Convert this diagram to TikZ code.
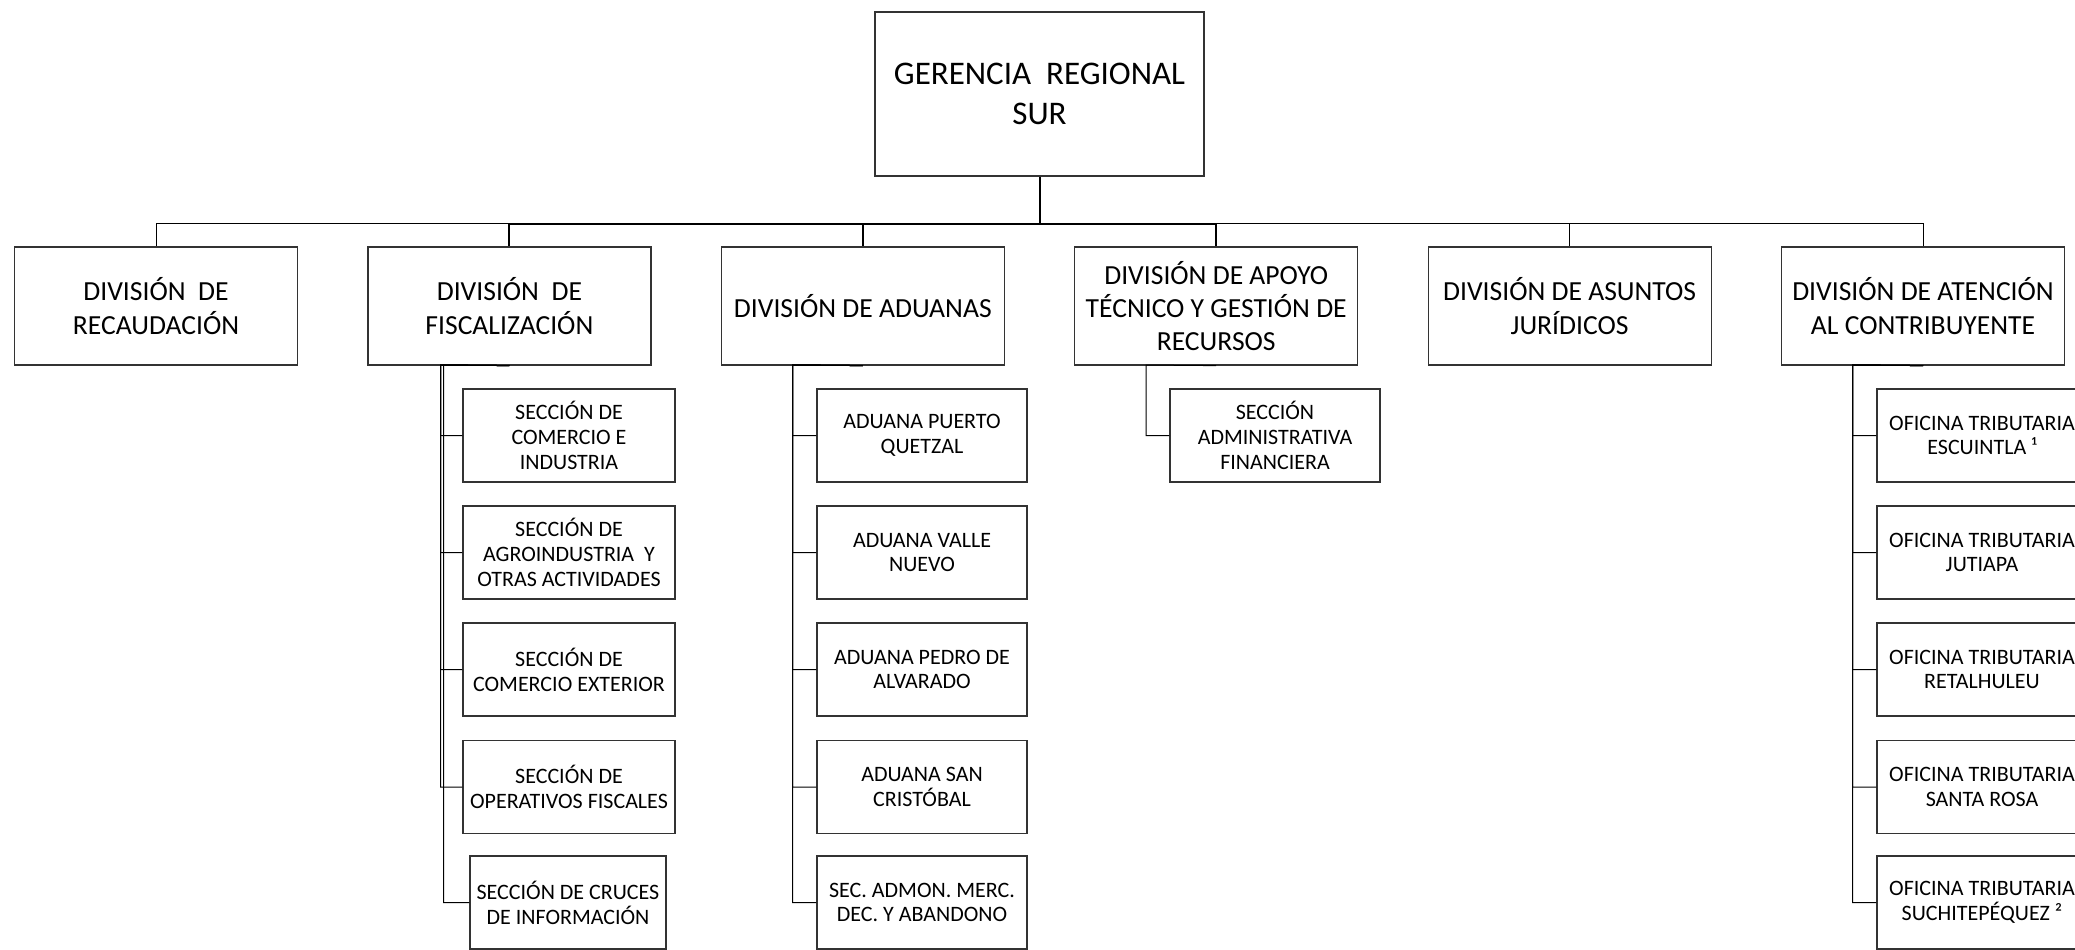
\documentclass[tikz,border=0pt]{standalone}
\usepackage{fontspec}
\setmainfont{Carlito}
\begin{document}
\begin{tikzpicture}[x=0.5pt,y=-0.5pt,
	topbox/.style={draw=black!80,line width=0.6pt,fill=white,align=center,inner sep=1pt,
		minimum width=164.5pt,minimum height=82pt,font=\fontsize{16.5}{20}\selectfont},
	divbox/.style={draw=black!80,line width=0.6pt,fill=white,align=center,inner sep=1pt,
		minimum width=141.5pt,minimum height=59pt,font=\fontsize{13.8}{16.6}\selectfont},
	secbox/.style={draw=black!80,line width=0.6pt,fill=white,align=center,inner sep=1pt,
		minimum width=105pt,minimum height=46.5pt,font=\fontsize{11}{12.4}\selectfont},
	tie/.style={line width=0.5pt},
	trunk/.style={line width=1pt}]
	\useasboundingbox (0,0) rectangle (2075,949);
	\clip (0,0) rectangle (2075,949);

	\node[topbox] (g) at (1039.5,94) {GERENCIA\ \ REGIONAL\\SUR};

	\node[divbox] (d1) at (156,306) {DIVISIÓN\ \ DE\\RECAUDACIÓN};
	\node[divbox] (d2) at (509.4,306) {DIVISIÓN\ \ DE\\FISCALIZACIÓN};
	\node[divbox] (d3) at (862.8,306) {DIVISIÓN DE ADUANAS};
	\node[divbox] (d4) at (1216.2,306) {DIVISIÓN DE APOYO\\TÉCNICO Y GESTIÓN DE\\RECURSOS};
	\node[divbox] (d5) at (1569.6,306) {DIVISIÓN DE ASUNTOS\\JURÍDICOS};
	\node[divbox] (d6) at (1923,306) {DIVISIÓN DE ATENCIÓN\\AL CONTRIBUYENTE};

	% fiscalizacion
	\node[secbox,minimum width=106pt] (f1) at (569,435.5) {SECCIÓN DE\\COMERCIO E\\INDUSTRIA};
	\node[secbox,minimum width=106pt] (f2) at (569,552.5) {SECCIÓN DE\\AGROINDUSTRIA\ \ Y\\OTRAS ACTIVIDADES};
	\node[secbox,minimum width=106pt] (f3) at (569,669.5) {SECCIÓN DE\\COMERCIO EXTERIOR};
	\node[secbox,minimum width=106pt] (f4) at (569,787) {SECCIÓN DE\\OPERATIVOS FISCALES};
	\node[secbox,minimum width=98pt] (f5) at (568,902.5) {SECCIÓN DE CRUCES\\DE INFORMACIÓN};

	% aduanas
	\node[secbox] (a1) at (922,435.5) {ADUANA PUERTO\\QUETZAL};
	\node[secbox] (a2) at (922,552.5) {ADUANA VALLE\\NUEVO};
	\node[secbox] (a3) at (922,669.5) {ADUANA PEDRO DE\\ALVARADO};
	\node[secbox] (a4) at (922,787) {ADUANA SAN\\CRISTÓBAL};
	\node[secbox] (a5) at (922,902.5) {SEC. ADMON. MERC.\\DEC. Y ABANDONO};

	% apoyo tecnico
	\node[secbox] (t1) at (1275,435.5) {SECCIÓN\\ADMINISTRATIVA\\FINANCIERA};

	% atencion al contribuyente
	\node[secbox] (o1) at (1982,435.5) {OFICINA TRIBUTARIA\\ESCUINTLA ¹};
	\node[secbox] (o2) at (1982,552.5) {OFICINA TRIBUTARIA\\JUTIAPA};
	\node[secbox] (o3) at (1982,669.5) {OFICINA TRIBUTARIA\\RETALHULEU};
	\node[secbox] (o4) at (1982,787) {OFICINA TRIBUTARIA\\SANTA ROSA};
	\node[secbox] (o5) at (1982,902.5) {OFICINA TRIBUTARIA\\SUCHITEPÉQUEZ ²};

	\coordinate (bus) at (1039.5,223.6);
	\coordinate (fv) at (440.7,365);
	\coordinate (fw) at (443.5,365);
	\coordinate (av) at (792.7,365);
	\coordinate (tv) at (1146,365);
	\coordinate (ov) at (1852.6,365);

	\draw[trunk] (g.south) -- (bus);
	\draw[tie] (bus) -| (d1.north);
	\draw[trunk] (bus) -| (d2.north);
	\draw[trunk] (bus) -| (d3.north);
	\draw[trunk] (bus) -| (d4.north);
	\draw[tie] (bus) -| (d5.north);
	\draw[tie] (bus) -| (d6.north);

	\draw[tie] (d2.south) -- (fv) |- (f1.west);
	\draw[tie] (d2.south) -- (fv) |- (f2.west);
	\draw[tie] (d2.south) -- (fv) |- (f3.west);
	\draw[tie] (d2.south) -- (fv) |- (f4.west);
	\draw[tie] (d2.south) -- (fw) |- (f5.west);

	\draw[tie] (d3.south) -- (av) |- (a1.west);
	\draw[tie] (d3.south) -- (av) |- (a2.west);
	\draw[tie] (d3.south) -- (av) |- (a3.west);
	\draw[tie] (d3.south) -- (av) |- (a4.west);
	\draw[tie] (d3.south) -- (av) |- (a5.west);

	\draw[tie] (d4.south) -- (tv) |- (t1.west);

	\draw[tie] (d6.south) -- (ov) |- (o1.west);
	\draw[tie] (d6.south) -- (ov) |- (o2.west);
	\draw[tie] (d6.south) -- (ov) |- (o3.west);
	\draw[tie] (d6.south) -- (ov) |- (o4.west);
	\draw[tie] (d6.south) -- (ov) |- (o5.west);
\end{tikzpicture}
\end{document}
